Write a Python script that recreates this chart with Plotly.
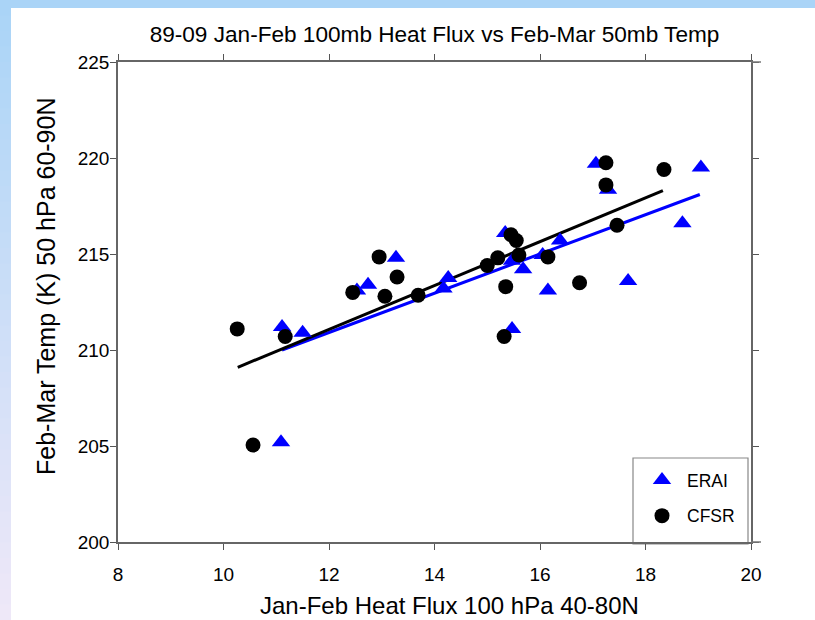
import plotly.graph_objects as go

# ---- data ----
erai_flux = [11.09, 11.11, 11.50, 12.53, 12.74, 13.27, 14.17, 14.26, 15.34, 15.47,
             15.47, 15.68, 16.05, 16.15, 16.38, 17.06, 17.29, 17.67, 18.70, 19.05]
erai_temp = [205.2, 211.2, 210.9, 213.1, 213.4, 214.8, 213.2, 213.75, 216.1, 211.1,
             214.65, 214.2, 214.95, 213.1, 215.7, 219.7, 218.35, 213.6, 216.6, 219.5]

cfsr_flux = [10.26, 10.56, 11.17, 12.45, 12.95, 13.06, 13.29, 13.69, 15.00, 15.20,
             15.32, 15.35, 15.45, 15.55, 15.60, 16.15, 16.75, 17.25, 17.25, 17.46, 18.35]
cfsr_temp = [211.1, 205.05, 210.7, 213.0, 214.85, 212.8, 213.8, 212.85, 214.4, 214.8,
             210.7, 213.3, 216.0, 215.7, 214.95, 214.85, 213.5, 219.75, 218.6, 216.5, 219.4]

# regression line end points
erai_fit_x = [11.11, 19.03]
erai_fit_y = [210.0, 218.1]
cfsr_fit_x = [10.27, 18.33]
cfsr_fit_y = [209.1, 218.3]

x_ticks = [8, 10, 12, 14, 16, 18, 20]
y_ticks = [200, 205, 210, 215, 220, 225]

FONT = "Liberation Sans, Arial, sans-serif"

fig = go.Figure()
fig.add_trace(go.Scatter(x=erai_fit_x, y=erai_fit_y, mode="lines",
                         line=dict(color="#0000ff", width=3), showlegend=False, hoverinfo="skip"))
fig.add_trace(go.Scatter(x=cfsr_fit_x, y=cfsr_fit_y, mode="lines",
                         line=dict(color="black", width=3), showlegend=False, hoverinfo="skip"))
fig.add_trace(go.Scatter(x=erai_flux, y=erai_temp, mode="markers", name="ERAI",
                         legendgroup="a",
                         marker=dict(symbol="triangle-up", size=16, color="#0000ff")))
fig.add_trace(go.Scatter(x=cfsr_flux, y=cfsr_temp, mode="markers", name="CFSR",
                         legendgroup="b",
                         marker=dict(symbol="circle", size=15, color="black")))

# ---- slide-like background frame (styling only) ----
L, R, T, B = 118, 751, 62, 542
W, H = R - L, B - T
def px2x(px):
    return (px - L) / W
def py2y(py):
    return (B - py) / H

shapes = []
# top band
shapes.append(dict(type="rect", xref="paper", yref="paper",
                   x0=px2x(0), x1=px2x(815), y0=py2y(8), y1=py2y(0),
                   fillcolor="rgb(170,212,247)", line=dict(width=0), layer="below"))
# left band with vertical gradient
n = 40
c0 = (170, 212, 247)
c1 = (238, 232, 248)
for i in range(n):
    t = i / (n - 1)
    c = tuple(int(round(c0[k] + (c1[k] - c0[k]) * t)) for k in range(3))
    ya = 620 * i / n
    yb = 620 * (i + 1) / n + 1
    shapes.append(dict(type="rect", xref="paper", yref="paper",
                       x0=px2x(0), x1=px2x(11), y0=py2y(yb), y1=py2y(ya),
                       fillcolor="rgb(%d,%d,%d)" % c, line=dict(width=0), layer="below"))
# axis-line overhang on the right (top and bottom frame lines)
for yy in (0, 1):
    shapes.append(dict(type="line", xref="paper", yref="paper",
                       x0=1, x1=px2x(761), y0=yy, y1=yy,
                       line=dict(color="#777", width=1.5)))
# legend box
shapes.append(dict(type="rect", xref="paper", yref="paper",
                   x0=px2x(633), x1=px2x(748), y0=py2y(544), y1=py2y(458),
                   fillcolor="white", line=dict(color="#888", width=1.2), layer="below"))

annotations = [
    dict(text="Jan-Feb Heat Flux 100 hPa 40-80N", xref="paper", yref="paper",
         x=px2x(449), y=py2y(605), xanchor="center", yanchor="middle", showarrow=False,
         font=dict(size=24, family=FONT)),
    dict(text="Feb-Mar Temp (K) 50 hPa 60-90N", xref="paper", yref="paper",
         x=px2x(46), y=py2y(287), xanchor="center", yanchor="middle", showarrow=False,
         textangle=-90, font=dict(size=25, family=FONT)),
]

fig.update_layout(
    width=815, height=620,
    margin=dict(l=L, r=815 - R, t=T, b=620 - B),
    paper_bgcolor="white", plot_bgcolor="white",
    shapes=shapes,
    annotations=annotations,
    font=dict(family=FONT, color="black"),
    title=dict(text="89-09 Jan-Feb 100mb Heat Flux vs Feb-Mar 50mb Temp",
               x=(L + R) / 2 / 815, xanchor="center", y=1 - 34 / 620, yanchor="middle",
               font=dict(size=22.6, family=FONT)),
    xaxis=dict(range=[8, 20], tickvals=x_ticks, ticks="outside", ticklen=6, tickcolor="#555",
               showline=True, linecolor="#666", linewidth=1.5, mirror="ticks",
               showgrid=False, zeroline=False, tickfont=dict(size=19),
               ticklabelstandoff=8, automargin=False),
    yaxis=dict(range=[200, 225], tickvals=y_ticks, ticks="outside", ticklen=6, tickcolor="#555",
               showline=True, linecolor="#666", linewidth=1.5, mirror="ticks",
               showgrid=False, zeroline=False, tickfont=dict(size=19),
               ticklabelstandoff=-3, automargin=False),
    legend=dict(x=px2x(637), y=py2y(462), xanchor="left", yanchor="top",
                borderwidth=0, bgcolor="rgba(0,0,0,0)",
                font=dict(size=17.5, family=FONT), tracegroupgap=10, itemwidth=40),
    showlegend=True,
)

fig.write_html("out.html", config={"displayModeBar": False},
               post_script="document.body.style.margin='0';")
